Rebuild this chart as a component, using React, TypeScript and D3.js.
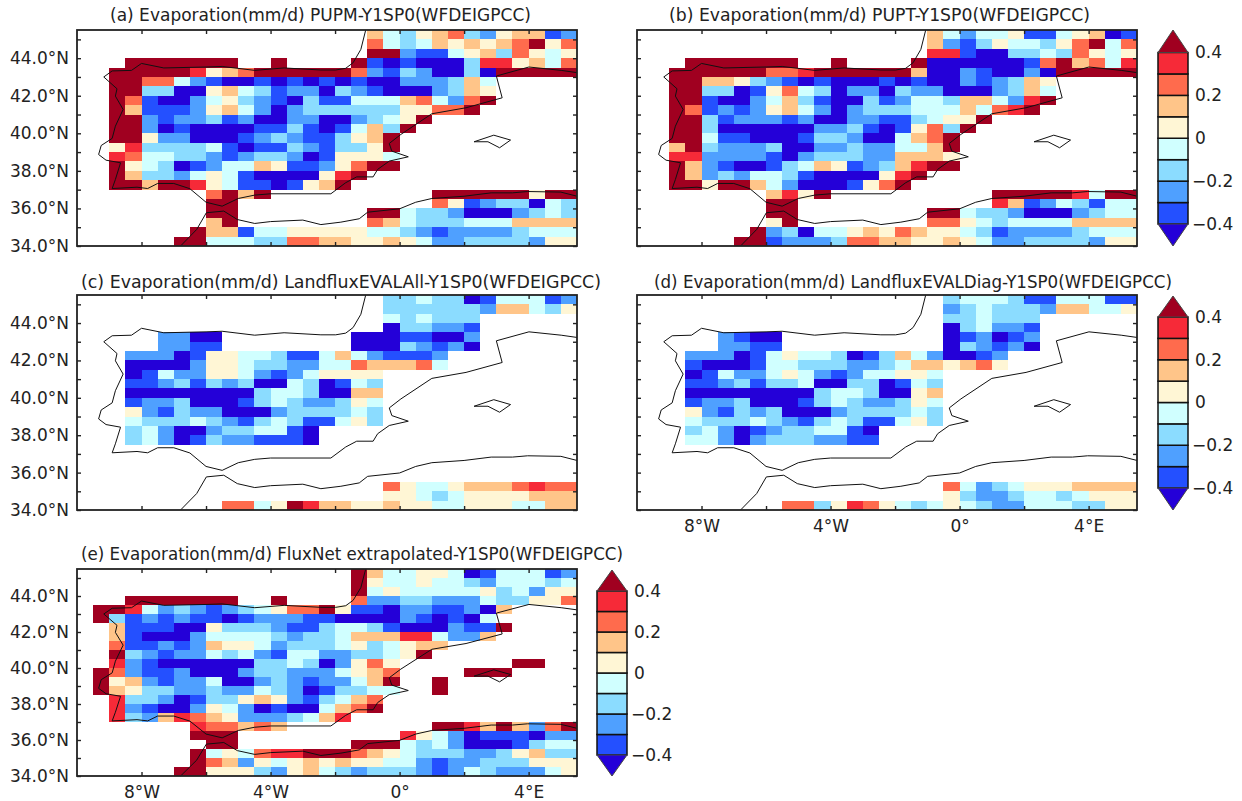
import React, { useEffect, useRef } from 'react'
import * as d3 from 'd3'

// rows run north to south (45.5N to 34N), columns west to east (10W to 5.5E), 0.5 degree cells
// each digit is the colour bin of the cell: 0 is below -0.4, 9 is above 0.4, '.' is no data
const binMid = [-0.45, -0.35, -0.25, -0.15, -0.05, 0.05, 0.15, 0.25, 0.35, 0.45]
const levels = [-0.4, -0.3, -0.2, -0.1, 0, 0.1, 0.2, 0.3, 0.4]
const palette = ['#2400d8', '#2450ff', '#4fa0ff', '#8bdcff', '#d0ffff', '#fff6d5', '#ffc589', '#ff6b4d', '#f62a38', '#a00020']

const gridA = [
  '..................6435673256612',
  '..................7434656567957',
  '..................9921145637545',
  '...9999999..9....91010003885647',
  '..99999856799999972132003099999',
  '..997742100101010100222364.....',
  '..993300564312203210002365.....',
  '..971002453210311444674279.....',
  '..96111256420233333355779......',
  '..99212231200220023459.........',
  '..9920100001131014639..........',
  '..995220001232113569...........',
  '..583333410113213359...........',
  '..874433212332015554...........',
  '..954301244651125799...........',
  '..9633245410000589.............',
  '..996998541101569..............',
  '........7969..........999999599',
  '........99............751233043',
  '........99........9943320002343',
  '........69........7643334446666',
  '.......966144555554432122223444',
  '......9944433776655654223333255',
]

const gridB = [
  '..................6424451145601',
  '..................6213544357947',
  '..................8810033437545',
  '...9999999..9....90000001796748',
  '..99999977899999960021002099999',
  '..996653210100010100212365.....',
  '..993301574302203220002364.....',
  '..991002463100312443664289.....',
  '..97121256420233344464789......',
  '..99312221200221134559.........',
  '..9930000002231015739..........',
  '..994110001332004679...........',
  '..693222300223224469...........',
  '..882222102333226665...........',
  '..962100134651236899...........',
  '..9623244310000589.............',
  '..995996420001579..............',
  '........6859..........999998499',
  '........99............861243144',
  '........99........9943320002344',
  '........59........7754344446666',
  '.......923044565765543122223444',
  '......9912223776655654223333255',
]

const gridC = [
  '...................334330144412',
  '...................333333266435',
  '...................434333......',
  '...................033221......',
  '.....2200........00011002......',
  '.....2211........00032120......',
  '...22201554431146421112........',
  '...00002554332244766674........',
  '...0142255421245555............',
  '...1123132300430143............',
  '...0000000034430066............',
  '...1223000134322354............',
  '...5213220002333343............',
  '...4333432134311453............',
  '...342002334410................',
  '...342013221110................',
  '...............................',
  '...............................',
  '...............................',
  '...............................',
  '...................754456667877',
  '...................554345555666',
  '.........7745986655655445554466',
]

const gridD = [
  '...................344431144411',
  '...................234333266445',
  '...................334333......',
  '...................034221......',
  '.....2100..........012012......',
  '.....2211..........032120......',
  '...22201454430136420012........',
  '...10001443332234665675........',
  '...0142245421244554............',
  '...1123133400330143............',
  '...0000000034430056............',
  '...1223000134322354............',
  '...5213230002333343............',
  '...4333432134311453............',
  '...342012334410................',
  '...442023332211................',
  '...............................',
  '...............................',
  '...............................',
  '...............................',
  '...................742345556666',
  '...................532234434555',
  '.........7735875434543224443355',
]

const gridE = [
  '.................96445540144412',
  '.................95445443244434',
  '.................94544444534255',
  '...9999999..9....72233222433557',
  '.99842321234577951102211206....',
  '.9312121101222110000210104.....',
  '..6111005333211344310002119....',
  '..610002444432334666884226.....',
  '..711212655423334534566........',
  '..93212243421442233459.........',
  '..821000000334302575.......99..',
  '.9721120002332224567....999....',
  '.9562122400232122469..9........',
  '.9653322322432013344..9........',
  '..83320133565213467............',
  '..82100254201004679............',
  '..832687652223468..............',
  '.......877676.........998696279',
  '.......999..........85420111022',
  '........99.......99943420001344',
  '.......945478899976543332235633',
  '.......976254565655442122333555',
  '......9955532564323332124322245',
]

// coastlines as [lon, lat]
const coastIberia = [
  [5.5, 43.23], [5.01, 43.35], [4.01, 43.53], [3.0, 43.05], [3.18, 41.89], [2.06, 41.36], [1.0, 41.04],
  [0.04, 39.94], [-0.32, 39.46], [-0.24, 39.05], [0.27, 38.75], [-0.32, 38.52], [-0.68, 38.08], [-0.82, 37.68],
  [-1.33, 37.68], [-1.67, 37.37], [-2.13, 36.78], [-4.0, 36.78], [-4.49, 36.71], [-5.0, 36.53], [-5.5, 36.12],
  [-6.0, 36.33], [-6.5, 37.05], [-7.0, 37.33], [-7.5, 37.33], [-7.81, 37.06], [-8.14, 37.13], [-8.91, 37.06],
  [-8.81, 37.54], [-8.65, 38.43], [-9.1, 38.57], [-9.33, 38.87], [-9.25, 39.35], [-8.91, 39.73], [-8.81, 40.38],
  [-8.57, 41.27], [-8.81, 41.98], [-8.76, 42.37], [-9.17, 43.0], [-8.91, 43.32], [-8.31, 43.35], [-8.0, 43.72],
  [-7.31, 43.48], [-6.0, 43.53], [-5.5, 43.56], [-4.49, 43.35], [-3.58, 43.48], [-2.44, 43.37], [-1.98, 43.37],
  [-1.67, 43.46], [-1.44, 43.76], [-1.2, 44.47], [-1.05, 45.5],
]
const coastAfrica = [
  [-6.79, 34.0], [-6.29, 34.88], [-5.99, 35.77], [-5.45, 35.86], [-5.03, 35.41], [-4.49, 35.2], [-4.0, 35.3],
  [-3.0, 35.38], [-2.44, 35.14], [-1.82, 35.27], [-1.25, 35.45], [-0.99, 35.8], [0.0, 35.98], [0.5, 36.33],
  [1.0, 36.53], [2.0, 36.65], [2.84, 36.83], [3.5, 36.83], [3.97, 36.9], [5.0, 36.87], [5.5, 36.65],
]
const coastMallorca = [[2.31, 39.55], [2.92, 39.9], [3.44, 39.64], [3.1, 39.23], [2.74, 39.55], [2.31, 39.55]]

const lonTicks = [-8, -6, -4, -2, 0, 2, 4]
const latTicks = [34, 35, 36, 37, 38, 39, 40, 41, 42, 43, 44, 45]
const barTicks = [0.4, 0.2, 0, -0.2, -0.4]

const fontFamily = '"DejaVu Sans", sans-serif'
const colour = d3.scaleThreshold<number, string>().domain(levels).range(palette)

const panels = [
  { grid: gridA, title: '(a) Evaporation(mm/d) PUPM-Y1SP0(WFDEIGPCC)', x: 77, y: 30, h: 216, tx: 110, tw: 421, ty: 16, latLabels: true, lonLabels: false },
  { grid: gridB, title: '(b) Evaporation(mm/d) PUPT-Y1SP0(WFDEIGPCC)', x: 637, y: 30, h: 216, tx: 669, tw: 421, ty: 16, latLabels: false, lonLabels: false },
  { grid: gridC, title: '(c) Evaporation(mm/d) LandfluxEVALAll-Y1SP0(WFDEIGPCC)', x: 77, y: 295, h: 215, tx: 81, tw: 520, ty: 283, latLabels: true, lonLabels: false },
  { grid: gridD, title: '(d) Evaporation(mm/d) LandfluxEVALDiag-Y1SP0(WFDEIGPCC)', x: 637, y: 295, h: 215, tx: 654, tw: 518, ty: 283, latLabels: false, lonLabels: true },
  { grid: gridE, title: '(e) Evaporation(mm/d) FluxNet extrapolated-Y1SP0(WFDEIGPCC)', x: 77, y: 569, h: 207, tx: 81, tw: 542, ty: 555, latLabels: true, lonLabels: true },
]

const colourBars = [
  { x: 1158, top: 30, bottom: 246, y4: 52.5, yNeg4: 224 },
  { x: 1158, top: 296, bottom: 510, y4: 317, yNeg4: 488 },
  { x: 597, top: 570, bottom: 776, y4: 591, yNeg4: 755 },
]

const PLOT_W = 500
const BAR_W = 30

function App() {
  const ref = useRef<SVGSVGElement>(null)

  useEffect(() => {
    const svg = d3.select(ref.current)
    svg.selectAll('*').remove()

    panels.forEach((p) => {
      const x = d3.scaleLinear().domain([-10, 5.5]).range([p.x, p.x + PLOT_W])
      const y = d3.scaleLinear().domain([34, 45.5]).range([p.y + p.h, p.y])
      const g = svg.append('g')

      // decode the rows into cells
      const cells: { lon: number; lat: number; value: number }[] = []
      p.grid.forEach((row, r) => {
        row.split('').forEach((ch, c) => {
          if (ch !== '.') cells.push({ lon: -10 + c * 0.5, lat: 45.5 - r * 0.5, value: binMid[+ch] })
        })
      })

      g.selectAll('rect.cell')
        .data(cells)
        .enter()
        .append('rect')
        .attr('class', 'cell')
        .attr('x', (d) => x(d.lon))
        .attr('y', (d) => y(d.lat))
        .attr('width', x(0.5) - x(0))
        .attr('height', y(0) - y(0.5))
        .attr('fill', (d) => colour(d.value))
        .attr('shape-rendering', 'crispEdges')

      const line = d3.line<number[]>().x((d) => x(d[0])).y((d) => y(d[1]))
      g.selectAll('path.coast')
        .data([coastIberia, coastAfrica, coastMallorca])
        .enter()
        .append('path')
        .attr('class', 'coast')
        .attr('d', (d) => line(d))
        .attr('fill', 'none')
        .attr('stroke', '#111')
        .attr('stroke-width', 1)

      g.append('rect')
        .attr('x', p.x)
        .attr('y', p.y)
        .attr('width', PLOT_W)
        .attr('height', p.h)
        .attr('fill', 'none')
        .attr('stroke', '#222')
        .attr('stroke-width', 1.8)

      const lonLabel = (d: number) => {
        if (d % 4 !== 0) return ''
        if (d === 0) return '0°'
        return Math.abs(d) + (d < 0 ? '°W' : '°E')
      }
      const latLabel = (d: number) => (d % 2 === 0 ? d.toFixed(1) + '°N' : '')
      const noLabel = () => ''

      const axes = [
        { axis: d3.axisLeft(y).tickValues(latTicks).tickFormat((p.latLabels ? latLabel : noLabel) as any), at: [p.x, 0], pad: 8 },
        { axis: d3.axisRight(y).tickValues(latTicks).tickFormat(noLabel as any), at: [p.x + PLOT_W, 0], pad: 8 },
        { axis: d3.axisTop(x).tickValues(lonTicks).tickFormat(noLabel as any), at: [0, p.y], pad: 8 },
        { axis: d3.axisBottom(x).tickValues(lonTicks).tickFormat((p.lonLabels ? lonLabel : noLabel) as any), at: [0, p.y + p.h], pad: 10 },
      ]
      axes.forEach((a) => {
        const ag = g.append('g')
          .attr('transform', `translate(${a.at[0]},${a.at[1]})`)
          .call(a.axis.tickSizeInner(-4).tickSizeOuter(0).tickPadding(a.pad) as any)
        ag.select('.domain').remove()
        ag.selectAll('line').attr('stroke', '#222').attr('stroke-width', 1.4)
        ag.selectAll('text').attr('font-family', fontFamily).attr('font-size', 17).attr('fill', '#222')
      })

      g.append('text')
        .attr('x', p.tx)
        .attr('y', p.ty)
        .attr('dominant-baseline', 'middle')
        .attr('textLength', p.tw)
        .attr('lengthAdjust', 'spacingAndGlyphs')
        .attr('font-family', fontFamily)
        .attr('font-size', 17)
        .attr('fill', '#222')
        .text(p.title)
    })

    colourBars.forEach((b) => {
      const y = d3.scaleLinear().domain([-0.4, 0.4]).range([b.yNeg4, b.y4])
      const g = svg.append('g')
      const apexX = b.x + BAR_W / 2

      d3.pairs(levels).forEach(([lo, hi]) => {
        g.append('rect')
          .attr('x', b.x)
          .attr('y', y(hi))
          .attr('width', BAR_W)
          .attr('height', y(lo) - y(hi))
          .attr('fill', colour((lo + hi) / 2))
          .attr('stroke', '#111')
          .attr('stroke-width', 1.5)
      })
      const tri = d3.line()
      g.append('path')
        .attr('d', tri([[b.x, y(0.4)], [apexX, b.top], [b.x + BAR_W, y(0.4)]]) + 'Z')
        .attr('fill', colour(0.45))
        .attr('stroke', '#444')
        .attr('stroke-width', 1)
      g.append('path')
        .attr('d', tri([[b.x, y(-0.4)], [apexX, b.bottom], [b.x + BAR_W, y(-0.4)]]) + 'Z')
        .attr('fill', colour(-0.45))
        .attr('stroke', '#444')
        .attr('stroke-width', 1)

      const ag = g.append('g')
        .attr('transform', `translate(${b.x + BAR_W},0)`)
        .call(d3.axisRight(y).tickValues(barTicks).tickSize(0).tickPadding(7).tickFormat(d3.format('~g') as any) as any)
      ag.select('.domain').remove()
      ag.selectAll('text')
        .attr('font-family', fontFamily)
        .attr('font-size', 17)
        .attr('fill', '#222')
        .attr('dx', (d: any) => (d < 0 ? -3 : 0))
    })
  }, [])

  return (
    <svg
      ref={ref}
      width={1242}
      height={801}
      style={{ position: 'absolute', left: 0, top: 0, background: '#fff' }}
    />
  )
}

export default App
